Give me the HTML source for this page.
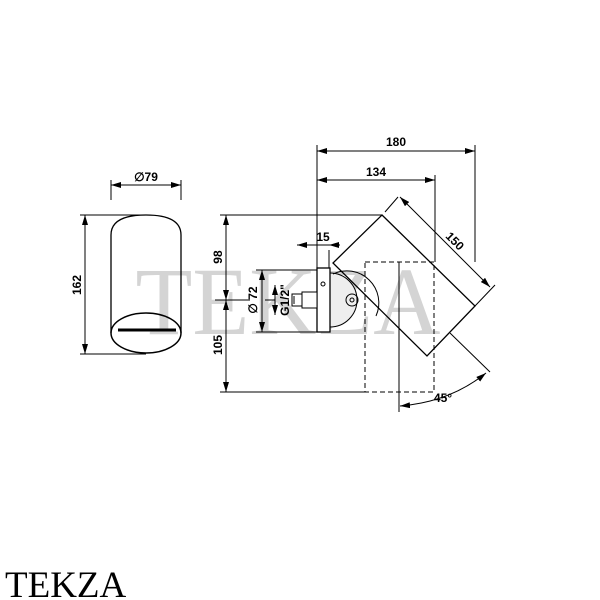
<!DOCTYPE html>
<html><head><style>body{margin:0;background:#fff}svg{display:block}</style></head><body>
<svg width="600" height="600" viewBox="0 0 600 600" xmlns="http://www.w3.org/2000/svg">
<defs>
<marker id="a" viewBox="0 0 10 6" refX="10" refY="3" markerWidth="10" markerHeight="6" orient="auto-start-reverse" markerUnits="userSpaceOnUse"><path d="M0,0L10,3L0,6z" fill="#000"/></marker>
</defs>
<text x="288" y="334" font-family="Liberation Serif,serif" font-size="96" fill="#d4d4d4" text-anchor="middle" textLength="305" lengthAdjust="spacingAndGlyphs">TEKZA</text>
<g stroke="#000" fill="none" stroke-width="1">
<line x1="111" y1="180" x2="111" y2="200"/><line x1="181" y1="180" x2="181" y2="200"/>
<line x1="111" y1="185" x2="181" y2="185" marker-start="url(#a)" marker-end="url(#a)"/>
<path d="M111,235 Q111,215 146,215 Q181,215 181,235 L181,333 M111,333 L111,235" stroke-width="1.3"/>
<ellipse cx="146" cy="333" rx="35" ry="20" stroke-width="1.5"/>
<line x1="118" y1="330" x2="176" y2="330" stroke-width="3"/>
<line x1="80" y1="215" x2="146" y2="215"/><line x1="80" y1="354" x2="146" y2="354"/>
<line x1="85" y1="215" x2="85" y2="354" marker-start="url(#a)" marker-end="url(#a)"/>
<line x1="317" y1="145" x2="317" y2="268"/>
<line x1="475" y1="145" x2="475" y2="262"/>
<line x1="317" y1="151" x2="475" y2="151" marker-start="url(#a)" marker-end="url(#a)"/>
<line x1="435" y1="175" x2="435" y2="262"/>
<line x1="317" y1="180" x2="435" y2="180" marker-start="url(#a)" marker-end="url(#a)"/>
<line x1="329" y1="250" x2="329" y2="268"/>
<line x1="297" y1="245" x2="317" y2="245" marker-start="url(#a)"/>
<line x1="329" y1="245" x2="340" y2="245" marker-start="url(#a)"/>
<line x1="317" y1="245" x2="329" y2="245"/>
<rect x="365" y="262" width="69" height="130" stroke-dasharray="5,3"/>
<line x1="399" y1="262" x2="399" y2="412"/>
<path d="M382,215 L475,306 L427,356 L333,263 Z" stroke-width="1.3"/>
<line x1="385" y1="212" x2="398" y2="197"/>
<line x1="475" y1="306" x2="495" y2="285"/>
<line x1="400" y1="197" x2="490" y2="287" marker-start="url(#a)" marker-end="url(#a)"/>
<line x1="450" y1="333" x2="490" y2="372"/>
<path d="M400,406 Q450,402 486,373" marker-start="url(#a)" marker-end="url(#a)"/>
<path d="M330,273 A27,27 0 0 1 330,327" fill="#eee"/>
<path d="M333,274 A32,32 0 0 1 376,316" />
<rect x="317" y="268" width="13" height="64" fill="#fff" stroke-width="1.3"/>
<circle cx="323" cy="284" r="2"/>
<circle cx="352" cy="300" r="6"/><circle cx="352" cy="300" r="2"/>
<rect x="302" y="292" width="15" height="16" fill="#fff"/>
<rect x="292" y="294" width="10" height="12" fill="#fff"/>
<line x1="294" y1="296" x2="294" y2="304"/>
<line x1="256" y1="270" x2="317" y2="270"/><line x1="256" y1="332" x2="317" y2="332"/>
<line x1="262" y1="270" x2="262" y2="332" marker-start="url(#a)" marker-end="url(#a)"/>
<line x1="275" y1="285" x2="275" y2="315" marker-start="url(#a)" marker-end="url(#a)"/>
<line x1="265" y1="300" x2="275" y2="300"/>
<line x1="220" y1="215" x2="382" y2="215"/>
<line x1="220" y1="392" x2="365" y2="392"/>
<line x1="226" y1="215" x2="226" y2="300" marker-start="url(#a)" marker-end="url(#a)"/>
<line x1="226" y1="300" x2="226" y2="392" marker-start="url(#a)" marker-end="url(#a)"/>
<line x1="215" y1="300" x2="250" y2="300"/>
</g>
<g font-family="Liberation Sans,sans-serif" font-weight="bold" font-size="12" fill="#000">
<text x="146" y="181" text-anchor="middle">∅79</text>
<text x="81" y="285" text-anchor="middle" transform="rotate(-90 81 285)">162</text>
<text x="396" y="146" text-anchor="middle">180</text>
<text x="376" y="176" text-anchor="middle">134</text>
<text x="323" y="241" text-anchor="middle">15</text>
<text x="452" y="244" text-anchor="middle" transform="rotate(45 452 244)">150</text>
<text x="222" y="257" text-anchor="middle" transform="rotate(-90 222 257)">98</text>
<text x="222" y="345" text-anchor="middle" transform="rotate(-90 222 345)">105</text>
<text x="257" y="300" text-anchor="middle" transform="rotate(-90 257 300)">∅ 72</text>
<text x="289" y="300" text-anchor="middle" transform="rotate(-90 289 300)">G1/2"</text>
<text x="443" y="402" text-anchor="middle">45°</text>
</g>
<text x="5" y="597" font-family="Liberation Serif,serif" font-size="37" fill="#000">TEKZA</text>
</svg>
</body></html>
